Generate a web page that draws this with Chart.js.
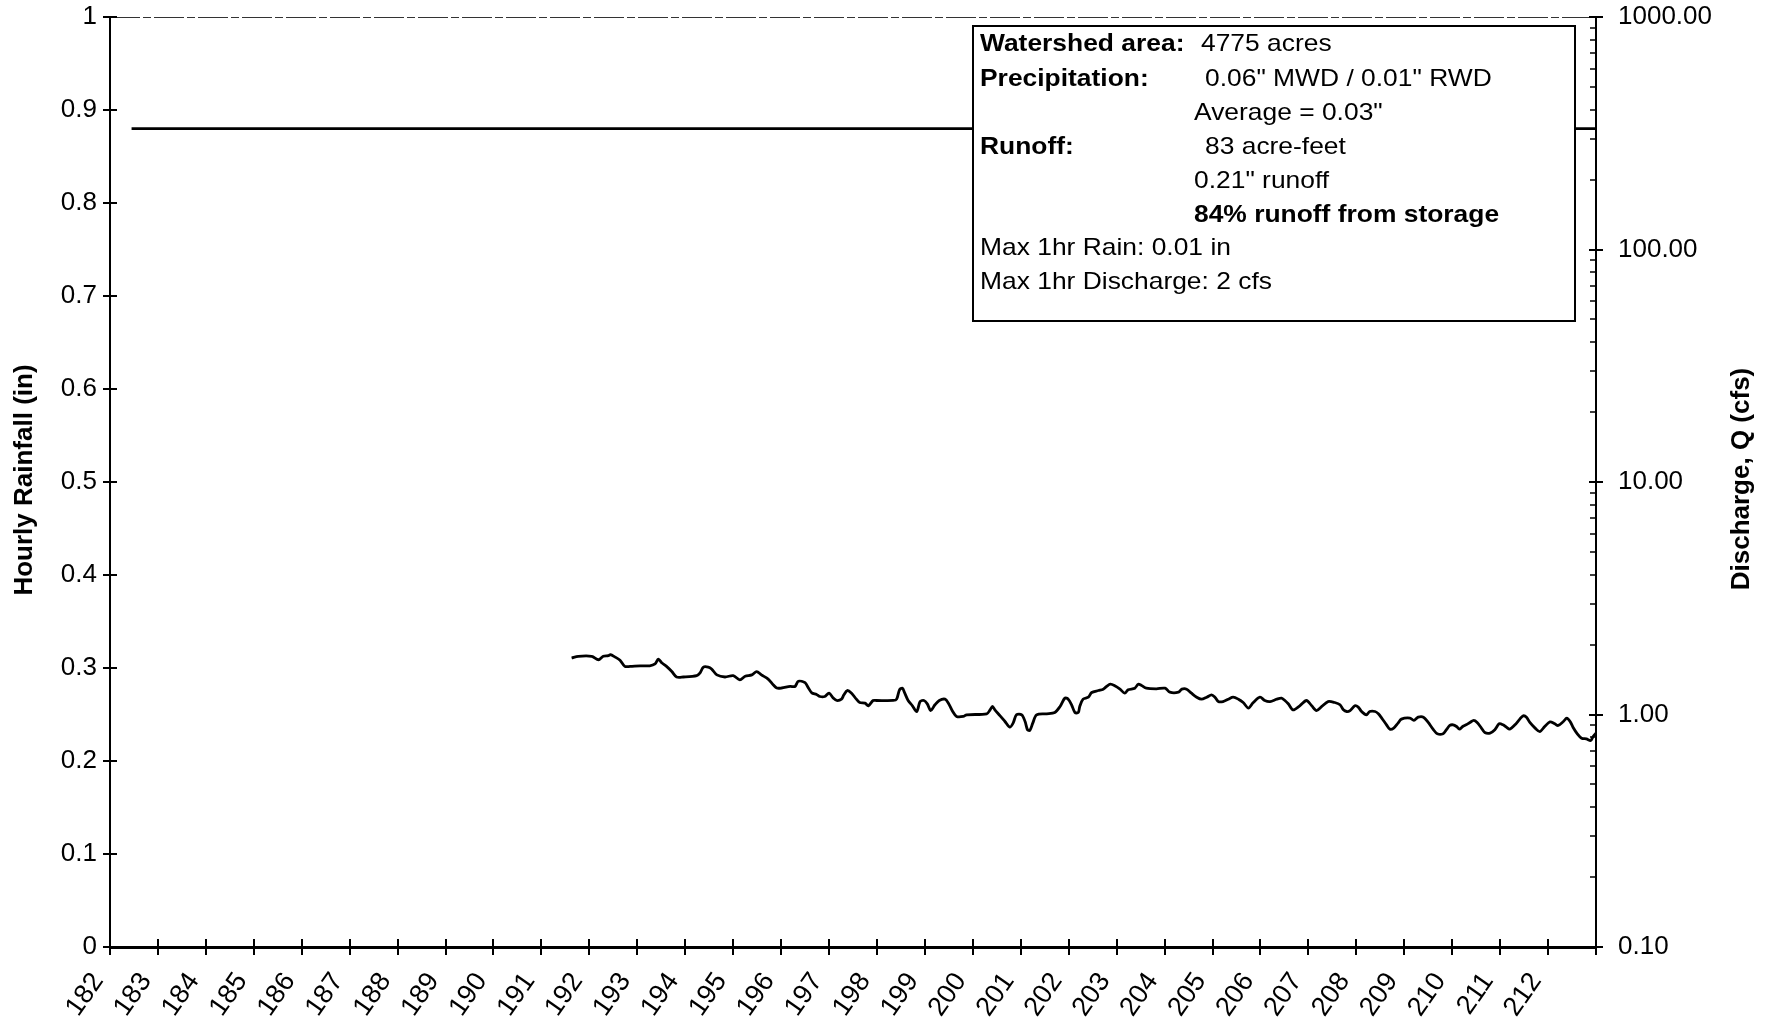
<!DOCTYPE html>
<html><head><meta charset="utf-8">
<script src="https://cdn.jsdelivr.net/npm/chart.js@4.4.1/dist/chart.umd.min.js"></script>
<style>html,body{margin:0;padding:0;background:#fff;}#wrap{width:1774px;height:1026px;}</style>
</head><body><div id="wrap"><canvas id="c" width="1774" height="1026"></canvas></div>
<script>
const xTickLabels = ['182','183','184','185','186','187','188','189','190','191','192','193','194','195','196','197','198','199','200','201','202','203','204','205','206','207','208','209','210','211','212'];
const leftTickLabels = ['0','0.1','0.2','0.3','0.4','0.5','0.6','0.7','0.8','0.9','1'];
const rightTickLabels = ['0.10','1.00','10.00','100.00','1000.00'];
const rightMajorValues = [0.1, 1, 10, 100, 1000];

const dischargeDays = [
 191.63,191.77,192.05,192.19,192.29,192.40,192.44,192.53,192.64,192.74,192.85,193.06,193.26,193.37,193.44,193.51,193.61,193.72,193.82,193.96,
 194.24,194.31,194.38,194.48,194.55,194.66,194.83,195.00,195.14,195.25,195.39,195.49,195.59,195.73,195.84,195.91,196.01,196.19,196.29,196.36,
 196.50,196.57,196.64,196.74,
 196.81,196.91,197.00,197.09,197.16,197.26,197.31,197.38,197.47,197.57,197.64,197.75,197.82,197.92,197.99,198.34,198.41,198.47,198.53,198.58,
 198.65,198.74,198.83,198.90,198.98,199.05,199.12,199.21,199.30,199.42,199.49,199.58,199.66,199.80,199.87,200.29,200.36,200.41,200.46,200.57,
 200.67,200.77,200.84,200.91,201.02,201.09,201.14,201.19,201.25,201.33,201.54,201.71,201.82,201.92,201.99,202.06,202.13,202.20,
 202.23,202.30,202.41,202.48,202.62,202.72,202.79,202.87,202.96,203.07,203.17,203.24,203.38,203.45,203.52,203.62,203.83,204.01,204.11,204.29,
 204.36,204.46,204.56,204.67,204.77,204.88,204.98,205.05,205.12,205.22,205.33,205.43,205.54,205.64,205.75,205.85,205.99,206.09,206.20,206.34,
 206.44,206.51,206.58,206.68,206.82,206.96,207.07,207.17,207.28,207.41,207.55,
 207.66,207.73,207.80,207.87,207.97,208.04,208.11,208.21,208.28,208.39,208.46,208.53,208.63,208.70,208.78,208.87,208.94,209.12,209.20,209.29,
 209.40,209.50,209.60,209.69,209.81,209.88,209.95,210.02,210.09,210.15,210.22,210.29,210.37,210.45,210.52,210.61,210.68,210.79,210.89,210.98,
 211.06,211.13,211.20,211.31,211.41,211.48,211.55,211.62,211.73,211.83,211.93,212.04,212.14,212.21,212.32,212.39,212.46,212.52,212.61,212.70,
 212.80,212.89,212.94,213.00
];
const dischargeCfs = [
 1.75,1.78,1.78,1.72,1.78,1.79,1.81,1.77,1.71,1.61,1.61,1.62,1.62,1.65,1.73,1.67,1.61,1.53,1.45,1.45,
 1.47,1.51,1.60,1.60,1.57,1.48,1.45,1.47,1.41,1.46,1.48,1.53,1.48,1.42,1.34,1.30,1.30,1.32,1.32,1.39,
 1.37,1.30,1.24,1.22,
 1.195,1.195,1.235,1.176,1.149,1.164,1.215,1.268,1.235,1.164,1.126,1.119,1.090,1.149,1.149,1.149,1.164,1.277,1.298,1.235,
 1.149,1.090,1.030,1.137,1.149,1.111,1.040,1.101,1.149,1.164,1.119,1.030,0.981,0.981,0.997,1.007,1.047,1.083,1.047,0.987,
 0.933,0.882,0.918,0.997,0.997,0.933,0.860,0.855,0.918,0.997,1.007,1.020,1.083,1.176,1.164,1.101,1.020,1.020,
 1.083,1.164,1.187,1.243,1.268,1.285,1.320,1.350,1.329,1.285,1.235,1.277,1.298,1.350,1.333,1.298,1.290,1.298,1.247,1.247,
 1.285,1.285,1.235,1.187,1.164,1.187,1.215,1.187,1.137,1.137,1.164,1.187,1.164,1.126,1.065,1.126,1.187,1.149,1.137,1.164,
 1.176,1.149,1.112,1.047,1.090,1.149,1.090,1.040,1.083,1.137,1.126,
 1.101,1.047,1.030,1.040,1.090,1.076,1.030,0.997,1.030,1.030,1.007,0.965,0.903,0.865,0.874,0.918,0.955,0.965,0.943,0.974,
 0.974,0.924,0.865,0.826,0.826,0.860,0.897,0.903,0.888,0.865,0.888,0.903,0.924,0.943,0.924,0.874,0.837,0.832,0.860,0.912,
 0.903,0.882,0.865,0.903,0.955,0.987,0.974,0.924,0.874,0.845,0.888,0.930,0.912,0.897,0.933,0.965,0.933,0.882,0.826,0.791,
 0.785,0.773,0.804,0.832
];
const flatLineDays = [182.45, 213];
const flatLineRain = [0.88, 0.88];

const infoLabels = ['Watershed area:', 'Precipitation:', '', 'Runoff:', '', '', 'Max 1hr Rain: 0.01 in', 'Max 1hr Discharge: 2 cfs'];
const infoValues = ['4775 acres', '0.06" MWD / 0.01" RWD', 'Average = 0.03"', '83 acre-feet', '0.21" runoff', '84% runoff from storage', '', ''];
const infoValueBold = [false, false, false, false, false, true, false, false];
const leftTitle = 'Hourly Rainfall (in)';
const rightTitle = 'Discharge, Q (cfs)';

const FF = "'Liberation Sans', Arial, sans-serif";

const decor = {
  id: 'decor',
  afterDraw(chart) {
    const ctx = chart.ctx;
    const {left, right, top, bottom} = chart.chartArea;
    const xs = chart.scales.x, ys = chart.scales.y, y2 = chart.scales.y2;
    ctx.save();
    // top border (thin, broken)
    ctx.lineWidth = 1.2;
    ctx.strokeStyle = '#333';
    ctx.setLineDash([30, 3, 8, 3]);
    ctx.beginPath(); ctx.moveTo(left, top + 0.5); ctx.lineTo(right, top + 0.5); ctx.stroke();
    ctx.setLineDash([]);
    ctx.strokeStyle = '#000';
    ctx.lineWidth = 2;
    // x ticks (cross)
    for (let d = 182; d <= 213; d++) {
      const px = Math.round(xs.getPixelForValue(d));
      ctx.beginPath(); ctx.moveTo(px, bottom - 8); ctx.lineTo(px, bottom + 8); ctx.stroke();
    }
    // left ticks
    for (let i = 0; i < leftTickLabels.length; i++) {
      const py = Math.round(ys.getPixelForValue(i / 10));
      ctx.beginPath(); ctx.moveTo(left - 7, py); ctx.lineTo(left + 7, py); ctx.stroke();
    }
    // right ticks
    rightMajorValues.forEach((m, k) => {
      const py = Math.round(y2.getPixelForValue(m));
      ctx.lineWidth = 2;
      ctx.beginPath(); ctx.moveTo(right - 7, py); ctx.lineTo(right + 7, py); ctx.stroke();
      if (k < rightMajorValues.length - 1) {
        ctx.lineWidth = 1.5;
        for (let s = 2; s <= 9; s++) {
          const pm = Math.round(y2.getPixelForValue(m * s));
          ctx.beginPath(); ctx.moveTo(right - 6, pm); ctx.lineTo(right, pm); ctx.stroke();
        }
      }
    });
    // info box
    const bx = 973, by = 26, bw = 602, bh = 295;
    ctx.fillStyle = '#fff';
    ctx.fillRect(bx, by, bw, bh);
    ctx.lineWidth = 2;
    ctx.strokeStyle = '#000';
    ctx.strokeRect(bx, by, bw, bh);
    const rowY = [44, 79, 113, 147, 181, 215, 248, 282];
    const valX = [1201, 1205, 1194, 1205, 1194, 1194, 0, 0];
    ctx.fillStyle = '#000';
    ctx.textBaseline = 'middle';
    ctx.textAlign = 'left';
    const drawScaled = (txt, x, y, bold) => {
      ctx.save();
      ctx.font = (bold ? 'bold ' : '') + '24px ' + FF;
      ctx.translate(x, y);
      ctx.scale(1.1, 1);
      ctx.fillText(txt, 0, 0);
      ctx.restore();
    };
    for (let i = 0; i < rowY.length; i++) {
      if (infoLabels[i]) drawScaled(infoLabels[i], 980, rowY[i], i < 4);
      if (infoValues[i]) drawScaled(infoValues[i], valX[i], rowY[i], infoValueBold[i]);
    }
    // axis titles
    ctx.font = 'bold 26px ' + FF;
    ctx.textAlign = 'center';
    ctx.textBaseline = 'middle';
    ctx.save(); ctx.translate(25, 480); ctx.rotate(-Math.PI / 2); ctx.fillText(leftTitle, 0, 0); ctx.restore();
    ctx.save(); ctx.translate(1742, 479); ctx.rotate(-Math.PI / 2); ctx.fillText(rightTitle, 0, 0); ctx.restore();
    ctx.restore();
  }
};

const tickFont = {family: FF, size: 26};
const noPad = (s) => { s.paddingTop = 0; s.paddingBottom = 0; };
new Chart(document.getElementById('c').getContext('2d'), {
  type: 'line',
  data: {
    datasets: [
      {
        label: 'Discharge',
        data: dischargeDays.map((d, i) => ({x: d, y: dischargeCfs[i]})),
        yAxisID: 'y2', borderColor: '#000', borderWidth: 2.8, pointRadius: 0, tension: 0.3, fill: false
      },
      {
        label: 'Line',
        data: flatLineDays.map((d, i) => ({x: d, y: flatLineRain[i]})),
        yAxisID: 'y', borderColor: '#000', borderWidth: 2.6, pointRadius: 0, tension: 0, fill: false
      }
    ]
  },
  options: {
    responsive: false, animation: false, events: [],
    layout: {padding: {top: 17, left: 0, right: 0, bottom: 0}},
    plugins: {legend: {display: false}, tooltip: {enabled: false}},
    scales: {
      x: {
        type: 'linear', min: 182, max: 213,
        afterFit(s) { s.height = 79; s.paddingLeft = 0; s.paddingRight = 0; },
        grid: {display: false, drawTicks: false},
        border: {display: true, color: '#000', width: 3},
        ticks: {
          stepSize: 1, autoSkip: false, maxRotation: 55, minRotation: 55, padding: 20, labelOffset: -12,
          color: '#000', font: {family: FF, size: 27},
          callback: (v) => { const i = Math.round(v) - 182; return xTickLabels[i] !== undefined ? xTickLabels[i] : ''; }
        }
      },
      y: {
        type: 'linear', position: 'left', min: 0, max: 1,
        afterFit(s) { s.width = 110; noPad(s); },
        grid: {display: false, drawTicks: false},
        border: {display: true, color: '#000', width: 2},
        ticks: {
          stepSize: 0.1, autoSkip: false, padding: 13, color: '#000', font: tickFont,
          callback: (v) => leftTickLabels[Math.round(v * 10)]
        }
      },
      y2: {
        type: 'logarithmic', position: 'right', min: 0.1, max: 1000,
        afterFit(s) { s.width = 178; noPad(s); },
        afterBuildTicks(s) { s.ticks = rightMajorValues.map(v => ({value: v, major: true})); },
        grid: {display: false, drawTicks: false},
        border: {display: true, color: '#000', width: 2},
        ticks: {
          autoSkip: false, padding: 22, color: '#000', font: tickFont,
          callback: (v) => { const i = rightMajorValues.findIndex(m => Math.abs(m - v) / m < 1e-6); return i >= 0 ? rightTickLabels[i] : ''; }
        }
      }
    }
  },
  plugins: [decor]
});
</script>
</body></html>
